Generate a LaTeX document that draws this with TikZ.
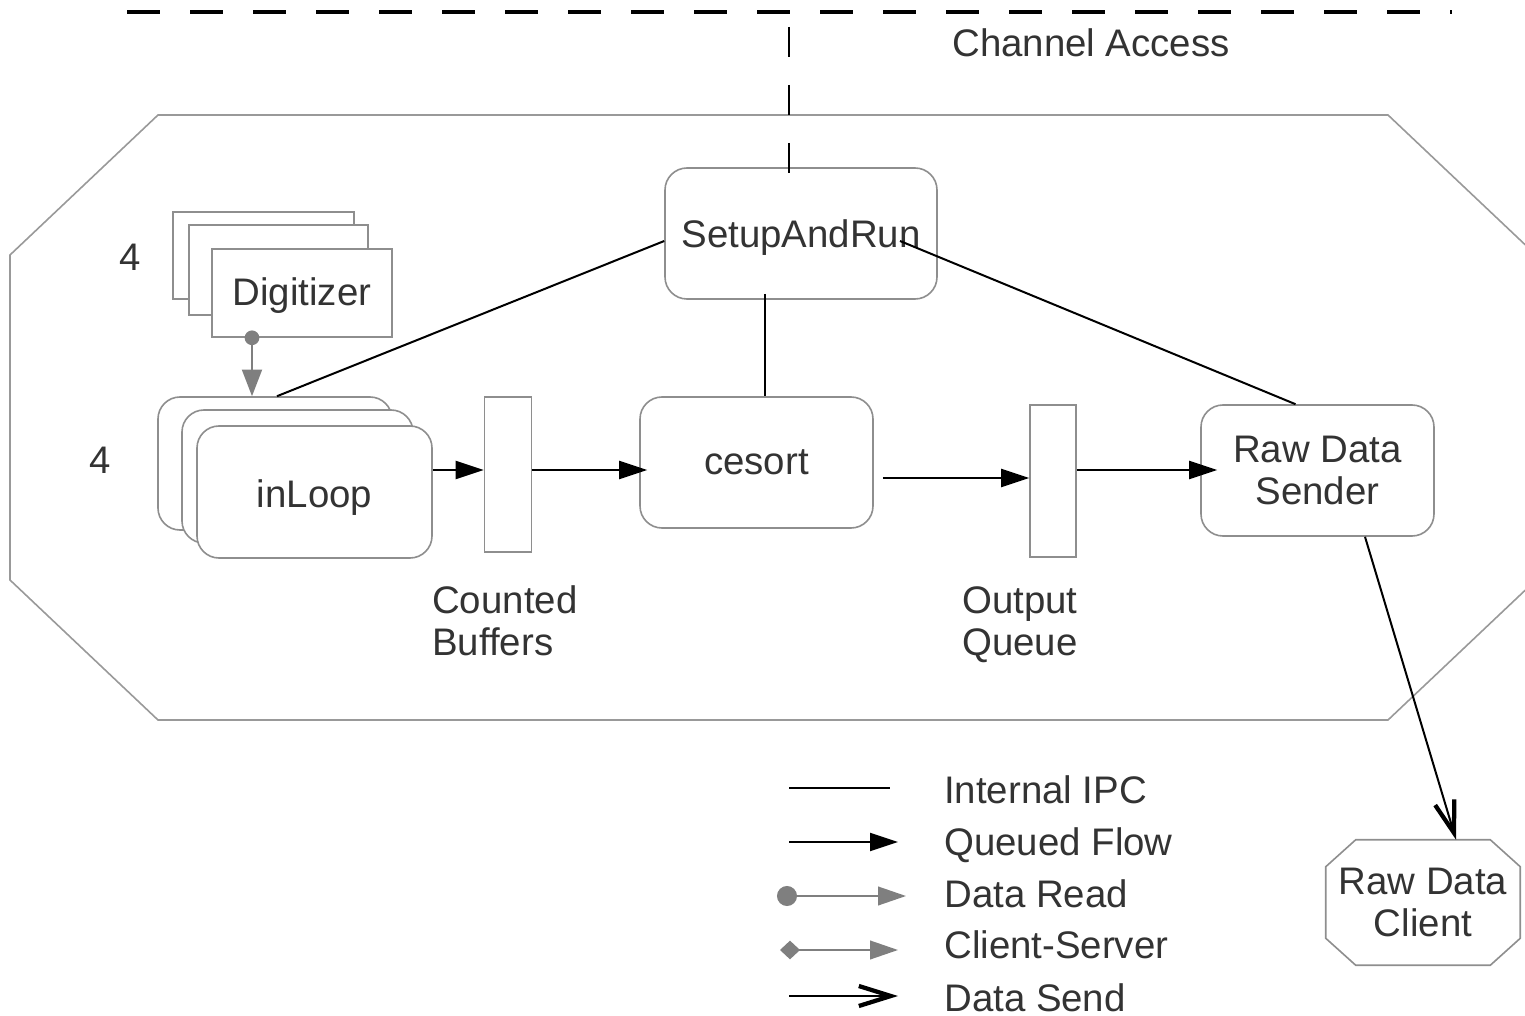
\documentclass[tikz,border=0pt]{standalone}
\usepackage{fontspec}
\setmainfont{Liberation Sans}
\usetikzlibrary{arrows.meta,shapes.geometric,calc}
\definecolor{txt}{HTML}{333333}
\definecolor{bord}{HTML}{8E8E8E}
\definecolor{tipgray}{HTML}{7F7F7F}
\begin{document}
\begin{tikzpicture}[x=0.75pt,y=-0.75pt,
  every node/.style={font=\fontsize{28.8}{31}\selectfont, text=txt},
  proc/.style={draw=bord, line width=1.2pt, rounded corners=16.5pt, fill=white, inner sep=0pt, align=center},
  sqbox/.style={draw=bord, line width=1.2pt, fill=white, inner sep=0pt},
  plainbox/.style={inner sep=0pt, align=center},
  outline/.style={draw=bord, line width=1.2pt},
  ipc/.style={draw=black, line width=1.5pt},
  queued/.style={draw=black, line width=1.5pt, -{Triangle[length=21pt,width=13.5pt]}},
  dataread/.style={draw=tipgray, line width=1.5pt, {Circle[length=11pt]}-{Triangle[length=20pt,width=15pt]}},
  dataread2/.style={draw=tipgray, line width=1.5pt, {Circle[length=15pt]}-{Triangle[length=21pt,width=14pt]}},
  clisrv/.style={draw=tipgray, line width=1.5pt, {Turned Square[length=15pt,width=14pt]}-{Triangle[length=21pt,width=14pt]}},
  datasend/.style={draw=black, line width=1.5pt, -{Straight Barb[length=24pt,width=15pt,line width=3.2pt]}},
  lbl/.style={anchor=west, align=left, inner sep=0pt}
]
\useasboundingbox (0,0) rectangle (1525,1016);
\clip (0,0) rectangle (1525,1016);

% top channel access dashed line
\draw[line width=2.4pt, dash pattern=on 24.75pt off 22.5pt] (127,12) -- (1452,12);
\node[lbl] (chan) at (952,43) {Channel Access};

% container octagon
\draw[draw=bord!90, line width=1.2pt] (158,115) -- (1388,115) -- (1536,255) -- (1536,580) -- (1388,720) -- (158,720) -- (10,580) -- (10,255) -- cycle;

% nodes
\node[proc, minimum width=204pt, minimum height=98.25pt, text height=24pt, text depth=3pt] (setup) at (801,233.5) {SetupAndRun};

\node[sqbox, minimum width=135.75pt, minimum height=65.25pt] (dig3) at (263.5,255.5) {};
\node[sqbox, minimum width=134.25pt, minimum height=67.5pt] (dig2) at (278.5,270) {};
\node[sqbox, minimum width=135pt, minimum height=66pt, text height=23pt, text depth=3.5pt] (dig) at (302,293) {Digitizer};
\node (n4a) at (130,257) {4};

\node[proc, minimum width=175.5pt, minimum height=99.75pt] (il3) at (275,463.5) {};
\node[proc, minimum width=173.25pt, minimum height=99.75pt] (il2) at (297.5,476.5) {};
\node[proc, minimum width=176.25pt, minimum height=99pt, text height=25pt, text depth=2.5pt] (il) at (314.5,492) {inLoop};
\node (n4b) at (100,460) {4};

\node[sqbox, minimum width=35.25pt, minimum height=116.25pt] (cbuf) at (508,474.5) {};
\node[proc, minimum width=174.75pt, minimum height=98.25pt] (cesort) at (756.5,462.5) {cesort};
\node[sqbox, minimum width=34.5pt, minimum height=114pt] (oq) at (1053,481) {};
\node[proc, minimum width=174.75pt, minimum height=98.25pt] (sender) at (1317.5,470.5) {Raw Data\\Sender};

\node[plainbox, minimum width=145.5pt, minimum height=93.75pt] (client) at (1423,902.5) {Raw Data\\Client};
\draw[outline] ($(client.north west)+(30,0)$) -- ($(client.north east)+(-30,0)$) -- ($(client.north east)+(0,27)$) -- ($(client.south east)+(0,-27)$) -- ($(client.south east)+(-30,0)$) -- ($(client.south west)+(30,0)$) -- ($(client.south west)+(0,-27)$) -- ($(client.north west)+(0,27)$) -- cycle;

\node[lbl, anchor=base west] (cbl) at (432,655) {Counted\\Buffers};
\node[lbl, anchor=base west] (oql) at (962,655) {Output\\Queue};

% channel access link
\coordinate (ca1) at (789,27);
\coordinate (ca2) at (789,175);
\draw[line width=1.95pt, dash pattern=on 22.5pt off 21pt] (ca1) -- (ca2);

% internal IPC
\draw[ipc] ($(setup.west)+(0,7.5)$) -- ($(il3.north)+(2,0)$);
\draw[ipc] ($(setup.center)+(99,7.5)$) -- ($(sender.north)+(-22,0)$);
\coordinate (sc1) at ($(setup.south -| cesort.north)+(8.5,-6)$);
\coordinate (sc2) at ($(cesort.north)+(8.5,0)$);
\draw[ipc] (sc1) -- (sc2);

% queued flows
\coordinate (q1a) at (il.east |- 0,470);
\coordinate (q1b) at (cbuf.west |- 0,470);
\coordinate (q2a) at (cbuf.east |- 0,470);
\coordinate (q2b) at ($(cesort.west |- 0,470)+(8,0)$);
\coordinate (q3a) at ($(cesort.east |- 0,478)+(9,0)$);
\coordinate (q3b) at (oq.west |- 0,478);
\coordinate (q4a) at (oq.east |- 0,470);
\coordinate (q4b) at ($(sender.west |- 0,470)+(17,0)$);
\draw[queued] (q1a) -- (q1b);
\draw[queued] (q2a) -- (q2b);
\draw[queued] (q3a) -- (q3b);
\draw[queued] (q4a) -- (q4b);

% data read
\coordinate (dr1) at (dig.south -| 252,0);
\coordinate (dr2) at (il3.north -| 252,0);
\draw[dataread, shorten <=-5.5pt] (dr1) -- (dr2);

% data send
\draw[datasend] ($(sender.south)+(47.5,0)$) -- ($(client.north)+(33,0)$);

% legend
\coordinate (l1a) at (789,788); \coordinate (l1b) at (890,788);
\coordinate (l2a) at (789,842); \coordinate (l2b) at (898,842);
\coordinate (l3a) at (787,896); \coordinate (l3b) at (906,896);
\coordinate (l4a) at (790,950); \coordinate (l4b) at (898,950);
\coordinate (l5a) at (789,996); \coordinate (l5b) at (898,996);
\draw[ipc] (l1a) -- (l1b);
\draw[queued] (l2a) -- (l2b);
\draw[dataread2, shorten <=-7.5pt] (l3a) -- (l3b);
\draw[clisrv, shorten <=-7.5pt] (l4a) -- (l4b);
\draw[datasend] (l5a) -- (l5b);
\node[anchor=base west, inner sep=0pt] (t1) at (944,803) {Internal IPC};
\node[anchor=base west, inner sep=0pt] (t2) at (944,855) {Queued Flow};
\node[anchor=base west, inner sep=0pt] (t3) at (944,907) {Data Read};
\node[anchor=base west, inner sep=0pt] (t4) at (944,958) {Client-Server};
\node[anchor=base west, inner sep=0pt] (t5) at (944,1011) {Data Send};
\end{tikzpicture}
\end{document}
